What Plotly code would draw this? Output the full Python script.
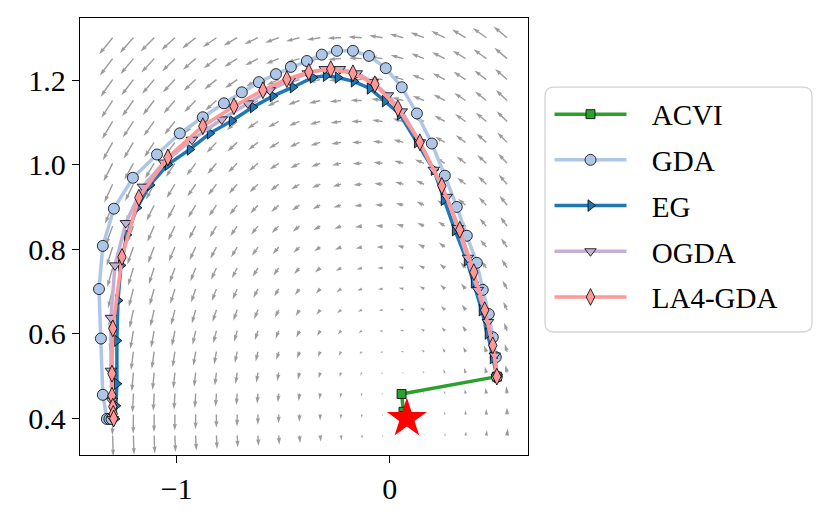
import numpy as np
import plotly.graph_objects as go

# ---- trajectories (x, y) ----
acvi_x = [0.502, 0.055, 0.064, 0.071, 0.075, 0.078]
acvi_y = [0.499, 0.458, 0.416, 0.406, 0.402, 0.401]

gda_x = [0.502, 0.497, 0.483, 0.464, 0.436, 0.408, 0.361, 0.314, 0.258, 0.197,
         0.127, 0.056, -0.019, -0.098, -0.173, -0.248, -0.319, -0.389, -0.464, -0.534,
         -0.614, -0.694, -0.778, -0.877, -0.985, -1.092, -1.205, -1.294, -1.346, -1.364,
         -1.355, -1.346, -1.327, -1.315, -1.305]
gda_y = [0.499, 0.545, 0.592, 0.647, 0.704, 0.768, 0.832, 0.900, 0.974, 1.050,
         1.121, 1.183, 1.228, 1.257, 1.269, 1.269, 1.260, 1.245, 1.231, 1.214,
         1.195, 1.171, 1.145, 1.112, 1.074, 1.024, 0.969, 0.896, 0.808, 0.706,
         0.589, 0.456, 0.399, 0.399, 0.399]

eg_x = [0.502, 0.483, 0.459, 0.431, 0.394, 0.361, 0.305, 0.253, 0.206, 0.127,
        0.047, -0.023, -0.094, -0.169, -0.244, -0.300, -0.361, -0.455, -0.549, -0.642,
        -0.741, -0.844, -0.938, -1.041, -1.125, -1.186, -1.233, -1.261, -1.275, -1.280,
        -1.280, -1.285, -1.289]
eg_y = [0.499, 0.543, 0.601, 0.656, 0.722, 0.774, 0.845, 0.917, 0.988, 1.053,
        1.119, 1.150, 1.180, 1.197, 1.206, 1.210, 1.206, 1.183, 1.162, 1.136,
        1.104, 1.074, 1.036, 1.000, 0.952, 0.898, 0.834, 0.762, 0.679, 0.584,
        0.482, 0.430, 0.399]

ogda_x = [0.502, 0.492, 0.460, 0.413, 0.366, 0.319, 0.267, 0.206, 0.141, 0.056,
          -0.009, -0.080, -0.155, -0.234, -0.305, -0.384, -0.469, -0.563, -0.666, -0.788,
          -0.928, -1.060, -1.158, -1.238, -1.289, -1.308, -1.308, -1.303, -1.299]
ogda_y = [0.499, 0.549, 0.628, 0.704, 0.780, 0.850, 0.924, 0.988, 1.053, 1.126,
          1.164, 1.195, 1.216, 1.226, 1.226, 1.216, 1.199, 1.176, 1.145, 1.107,
          1.059, 1.005, 0.948, 0.862, 0.762, 0.638, 0.513, 0.442, 0.399]

la4_x = [0.502, 0.483, 0.445, 0.394, 0.328, 0.244, 0.141, 0.038, -0.070, -0.173,
         -0.277, -0.380, -0.483, -0.595, -0.731, -0.877, -1.041, -1.177, -1.256, -1.299,
         -1.303, -1.303, -1.299, -1.297, -1.295]
la4_y = [0.499, 0.573, 0.656, 0.746, 0.846, 0.950, 1.053, 1.133, 1.190, 1.216,
         1.226, 1.219, 1.202, 1.176, 1.138, 1.091, 1.017, 0.922, 0.782, 0.613,
         0.506, 0.454, 0.428, 0.411, 0.400]

# solution of the game (red star)
star_x = [0.08]
star_y = [0.40]

# quiver grid of the game operator around the solution
grid_x = np.linspace(-1.30, 0.55, 20)
grid_y = np.linspace(0.36, 1.30, 20)

X_RANGE = [-1.453, 0.648]
Y_RANGE = [0.3138, 1.3466]
W, H = 831, 524
M = dict(l=72, r=311, t=10, b=77)   # the page adds an 8px body margin
px_x = (W - M["l"] - M["r"]) / (X_RANGE[1] - X_RANGE[0])
px_y = (H - M["t"] - M["b"]) / (Y_RANGE[1] - Y_RANGE[0])


def game_field(x, y):
    dx = x - star_x[0]
    dy = y - star_y[0]
    return -1.0 * dy, dx + 0.3 * dy


def quiver_polygons(scale=15.0, w=1.4):
    # matplotlib-like filled arrows, direction taken in screen space
    hl, hal, hw = 5 * w, 4.5 * w, 3 * w
    xs, ys = [], []
    for y0 in grid_y:
        for x0 in grid_x:
            u, v = game_field(x0, y0)
            mag = np.hypot(u, v)
            L = scale * mag
            if L < 0.8:
                continue
            ex, ey = u / mag, v / mag
            nx, ny = -ey, ex
            if L < hl:
                f = L / hl
                pts = [(0, -hw / 2 * f), (L, 0), (0, hw / 2 * f)]
            else:
                pts = [(0, -w / 2), (L - hal, -w / 2), (L - hl, -hw / 2), (L, 0),
                       (L - hl, hw / 2), (L - hal, w / 2), (0, w / 2)]
            for a, b in pts:
                xs.append(x0 + (a * ex + b * nx) / px_x)
                ys.append(y0 + (a * ey + b * ny) / px_y)
            xs.append(None)
            ys.append(None)
    return xs, ys


fig = go.Figure()

qx, qy = quiver_polygons()
fig.add_trace(go.Scatter(x=qx, y=qy, mode="lines", fill="toself",
                         fillcolor="rgb(155,155,155)", line=dict(width=0),
                         hoverinfo="skip", showlegend=False))

series = [
    ("ACVI", acvi_x, acvi_y, "#2ca02c", "square", 9),
    ("GDA", gda_x, gda_y, "#aec7e8", "circle", 11),
    ("EG", eg_x, eg_y, "#1f77b4", "triangle-right", 10),
    ("OGDA", ogda_x, ogda_y, "#c5b0d5", "triangle-down", 10),
    ("LA4-GDA", la4_x, la4_y, "#ff9896", "diamond-tall", 12),
]
for name, xs, ys, col, sym, size in series:
    fig.add_trace(go.Scatter(
        x=xs, y=ys, name="\u2002\u2009" + name, mode="lines+markers", legendgroup=name,
        line=dict(color=col, width=3.5),
        marker=dict(symbol=sym, size=size, color=col,
                    line=dict(color="black", width=0.8)),
    ))

fig.add_trace(go.Scatter(x=star_x, y=star_y, mode="markers", showlegend=False,
                         marker=dict(symbol="star", size=30, color="red",
                                     line=dict(width=0))))

# rounded legend frame (matplotlib style)
x0, x1 = 1.038, 1.634
y0, y1 = 0.2815, 0.842
rx, ry = 0.020, 0.0206
path = (f"M {x0+rx},{y0} L {x1-rx},{y0} Q {x1},{y0} {x1},{y0+ry} "
        f"L {x1},{y1-ry} Q {x1},{y1} {x1-rx},{y1} L {x0+rx},{y1} "
        f"Q {x0},{y1} {x0},{y1-ry} L {x0},{y0+ry} Q {x0},{y0} {x0+rx},{y0} Z")
fig.add_shape(type="path", path=path, xref="paper", yref="paper",
              line=dict(color="#d3d3d3", width=1.3), fillcolor="white", layer="below")

font = "Liberation Serif, Times New Roman, serif"
fig.update_layout(
    width=W, height=H, margin=M,
    paper_bgcolor="white", plot_bgcolor="white",
    font=dict(family=font, size=30, color="black"),
    legend=dict(x=1.048, y=0.838, xanchor="left", yanchor="top",
                bgcolor="rgba(0,0,0,0)", borderwidth=0,
                font=dict(size=29), itemwidth=72, tracegroupgap=5,
                traceorder="grouped"),
    xaxis=dict(range=X_RANGE, showgrid=False, zeroline=False, showline=True,
               linecolor="black", linewidth=1.3, mirror=True,
               ticks="outside", ticklen=7, tickwidth=1.3, tickcolor="black",
               tickvals=[-1, 0], ticktext=["\u22121", "0"]),
    yaxis=dict(range=Y_RANGE, showgrid=False, zeroline=False, showline=True,
               linecolor="black", linewidth=1.3, mirror=True,
               ticks="outside", ticklen=7, tickwidth=1.3, tickcolor="black",
               tickvals=[0.4, 0.6, 0.8, 1.0, 1.2], tickformat=".1f"),
)

fig.write_html("out.html")
